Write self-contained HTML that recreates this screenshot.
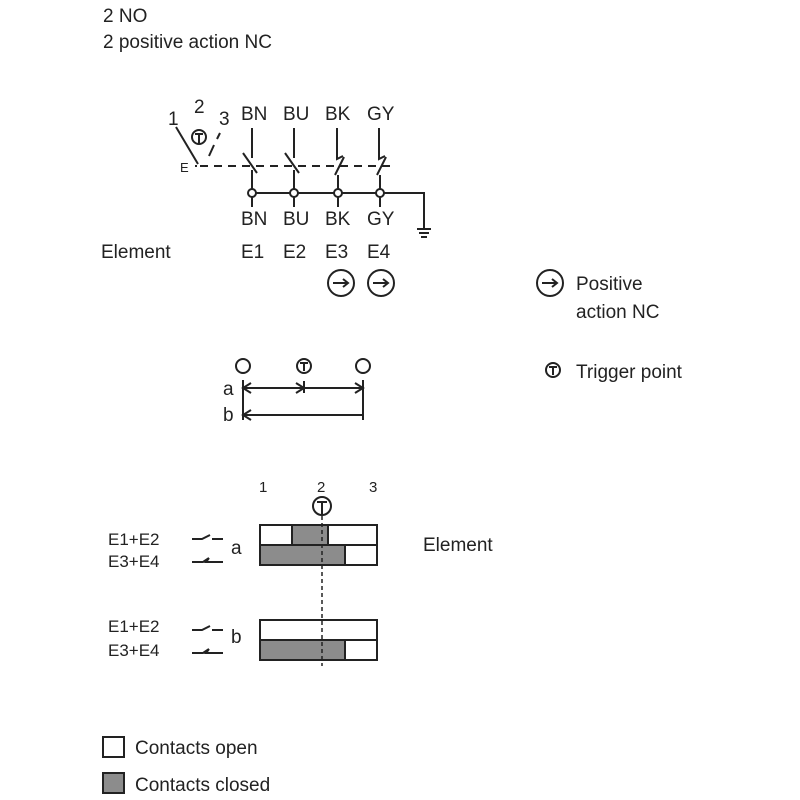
<!DOCTYPE html>
<html><head><style>body{margin:0;background:#fff}svg{display:block}text{font-family:"Liberation Sans",sans-serif;fill:#222}</style></head><body>
<svg width="800" height="800" viewBox="0 0 800 800" stroke="#222" fill="none">
<g stroke="none" font-size="19">
<text x="103" y="22">2 NO</text>
<text x="103" y="48">2 positive action NC</text>
<text x="241" y="120">BN</text><text x="283" y="120">BU</text><text x="325" y="120">BK</text><text x="367" y="120">GY</text>
<text x="241" y="225">BN</text><text x="283" y="225">BU</text><text x="325" y="225">BK</text><text x="367" y="225">GY</text>
<text x="101" y="258">Element</text>
<text x="241" y="258">E1</text><text x="283" y="258">E2</text><text x="325" y="258">E3</text><text x="367" y="258">E4</text>
<text x="576" y="290">Positive</text><text x="576" y="318">action NC</text>
<text x="576" y="378">Trigger point</text>
<text x="168" y="125">1</text><text x="194" y="113">2</text><text x="219" y="125">3</text>
<text x="180" y="172" font-size="13">E</text>
<text x="223" y="395">a</text><text x="223" y="421">b</text>
<text x="259" y="492" font-size="15">1</text><text x="317" y="492" font-size="15">2</text><text x="369" y="492" font-size="15">3</text>
<text x="108" y="545" font-size="17">E1+E2</text><text x="108" y="567" font-size="17">E3+E4</text>
<text x="108" y="632" font-size="17">E1+E2</text><text x="108" y="656" font-size="17">E3+E4</text>
<text x="231" y="554">a</text><text x="231" y="643">b</text>
<text x="423" y="551">Element</text>
<text x="135" y="754">Contacts open</text>
<text x="135" y="791">Contacts closed</text>
</g>
<g stroke-width="2">
<!-- top schematic -->
<path d="M176 127 L198 164"/><path d="M214 145 L209 156"/><path d="M220 133 L217 139"/>
<circle cx="199" cy="137" r="7"/><path d="M195 134h8M199 134v9"/>
<path d="M195 166h2" />
<path d="M200 166 H390" stroke-dasharray="8,6"/>
<path d="M252 128v30M243 153l14 20M252 170v20"/>
<path d="M294 128v30M285 153l14 20M294 170v20"/>
<path d="M337 128v31l6-3M344 157l-9 18M338 175v15"/>
<path d="M379 128v31l6-3M386 157l-9 18M380 175v15"/>
<path d="M252 193H424V228M417 229h14M419 233h10M421 237h6"/>
<circle cx="252" cy="193" r="4" fill="#fff"/><circle cx="294" cy="193" r="4" fill="#fff"/><circle cx="338" cy="193" r="4" fill="#fff"/><circle cx="380" cy="193" r="4" fill="#fff"/>
<path d="M252 197v10M294 197v10M338 197v10M380 197v10"/>
<circle cx="341" cy="283" r="13"/><path d="M333 283h14M343 279l5 4-5 4"/>
<circle cx="381" cy="283" r="13"/><path d="M373 283h14M383 279l5 4-5 4"/>
<circle cx="550" cy="283" r="13"/><path d="M542 283h14M552 279l5 4-5 4"/>
<circle cx="553" cy="370" r="7"/><path d="M549 367h8M553 367v8"/>
<!-- middle -->
<circle cx="243" cy="366" r="7"/><circle cx="363" cy="366" r="7"/>
<circle cx="304" cy="366" r="7"/><path d="M300 363h8M304 363v8"/>
<path d="M243 380v40M363 380v40M304 381v12"/>
<path d="M243 388H363M251 383l-8 5 8 5M296 383l8 5-8 5M355 383l8 5-8 5"/>
<path d="M243 415H363M251 410l-8 5 8 5"/>
<circle cx="322" cy="506" r="9"/><path d="M317 502h10M322 502v12"/>
<!-- switch symbols -->
<path d="M192 539h10l8-4M212 539h11"/>
<path d="M192 562h11l6-4M209 558l-3 4h17"/>
<path d="M192 630h10l8-4M212 630h11"/>
<path d="M192 653h11l6-4M209 649l-3 4h17"/>
</g>
<g stroke-width="2">
<rect x="260" y="525" width="117" height="20"/>
<rect x="292" y="525" width="36" height="20" fill="#8c8c8c"/>
<rect x="260" y="545" width="117" height="20"/>
<rect x="260" y="545" width="85" height="20" fill="#8c8c8c"/>
<rect x="260" y="620" width="117" height="20"/>
<rect x="260" y="640" width="117" height="20"/>
<rect x="260" y="640" width="85" height="20" fill="#8c8c8c"/>
<rect x="103" y="737" width="21" height="20"/>
<rect x="103" y="773" width="21" height="20" fill="#8c8c8c"/>
</g>
<path d="M322 516V666" stroke-width="1.5" stroke-dasharray="4,3"/>
</svg>
</body></html>
